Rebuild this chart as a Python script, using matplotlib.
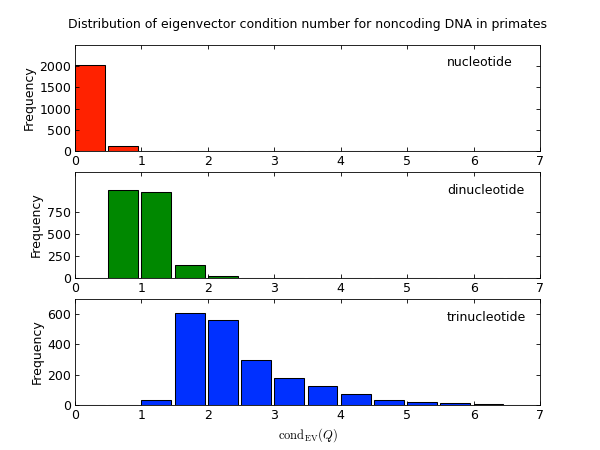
import numpy as np
import matplotlib
matplotlib.use('Agg')
import matplotlib.pyplot as plt

plt.rcParams['mathtext.fontset'] = 'cm'
plt.rcParams['xtick.direction'] = 'in'
plt.rcParams['ytick.direction'] = 'in'
plt.rcParams['xtick.top'] = True
plt.rcParams['ytick.right'] = True
plt.rcParams['font.size'] = 12

# bin left edges (width 0.5) from 0 to 7
bin_edges = np.arange(0, 7, 0.5)

nucleotide = [2020, 118, 8, 0, 0, 0, 0, 0, 0, 0, 0, 0, 0, 0]
dinucleotide = [5, 1000, 973, 143, 22, 0, 0, 0, 0, 0, 0, 0, 0, 0]
trinucleotide = [0, 0, 33, 605, 561, 297, 178, 127, 73, 30, 17, 10, 5, 2]

labels = ['nucleotide', 'dinucleotide', 'trinucleotide']
colors = ['#ff2200', '#008800', '#0030ff']
ylims = [2500, 1200, 700]
yticks = [[0, 500, 1000, 1500, 2000], [0, 250, 500, 750], [0, 200, 400, 600]]

fig, axes = plt.subplots(3, 1, figsize=(8, 6), dpi=75)
fig.subplots_adjust(left=0.125, right=0.9, top=0.9, bottom=0.1, hspace=0.2)

for ax, data, lab, col, ym, yt in zip(axes, [nucleotide, dinucleotide, trinucleotide],
                                      labels, colors, ylims, yticks):
    ax.bar(bin_edges, data, width=0.45, align='edge', color=col,
           edgecolor='black', linewidth=1.0)
    ax.set_xlim(0, 7)
    ax.set_ylim(0, ym)
    ax.set_yticks(yt)
    ax.set_xticks(range(8))
    ax.set_ylabel('Frequency')
    ax.text(0.8, 0.83, lab, transform=ax.transAxes, ha='left', va='center')

axes[0].set_title('Distribution of eigenvector condition number for noncoding DNA in primates',
                  fontsize=12, pad=16)
axes[2].set_xlabel(r'$\mathrm{cond}_{\mathrm{EV}}(Q)$')

fig.savefig('out.png', dpi=75)
